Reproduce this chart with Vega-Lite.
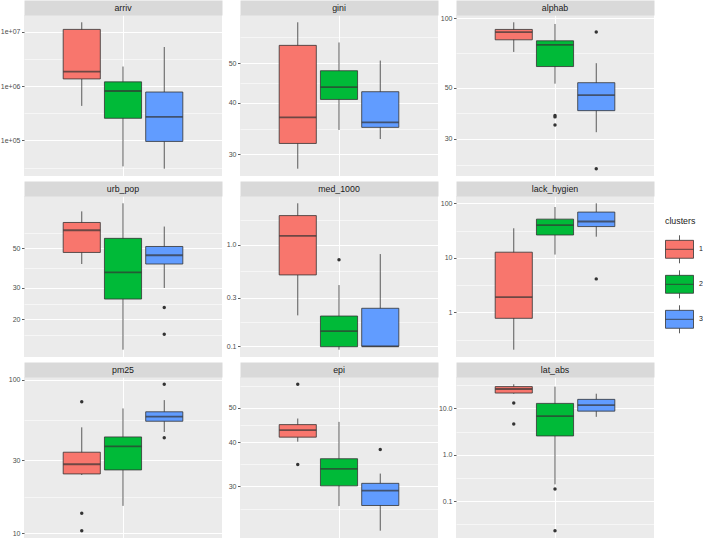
{
  "$schema": "https://vega.github.io/schema/vega-lite/v6.json",
  "padding": {"left": 0, "top": -99, "right": 0, "bottom": 0},
  "background": "white",
  "bounds": "flush",
  "columns": 3,
  "spacing": {"row": 20, "column": 18},
  "config": {
    "font": "Liberation Sans",
    "view": {"fill": "#EBEBEB", "stroke": null},
    "axisY": {"labelFont": "Liberation Sans", "labelFontSize": 7, "labelColor": "#4D4D4D", "tickColor": "#333333", "tickSize": 2.5, "tickWidth": 0.8, "domain": false, "gridColor": "#FFFFFF", "labelPadding": 1.5, "title": null},
    "axisX": {"labelFont": "Liberation Sans", "title": null, "domain": false, "ticks": true, "tickColor": "#D9D9D9", "tickWidth": 198, "tickSize": 15, "tickCap": "butt", "labelPadding": -7.5, "labelBaseline": "middle", "labelAngle": 0, "labelFontSize": 8.8, "labelColor": "#1A1A1A", "grid": true, "gridColor": "#FFFFFF", "gridWidth": 1.1, "bandPosition": 0.5}
  },
  "datasets": {
    "boxes": [
      {"variable": "arriv", "cluster": "1", "lower": 433000, "q1": 1360000, "median": 1860000, "q3": 11100000, "upper": 15000000},
      {"variable": "arriv", "cluster": "2", "lower": 33300, "q1": 256000, "median": 815000, "q3": 1200000, "upper": 2300000},
      {"variable": "arriv", "cluster": "3", "lower": 30200, "q1": 96000, "median": 271000, "q3": 780000, "upper": 5260000},
      {"variable": "gini", "cluster": "1", "lower": 27.7, "q1": 31.9, "median": 36.9, "q3": 55.2, "upper": 62.8},
      {"variable": "gini", "cluster": "2", "lower": 34.4, "q1": 40.8, "median": 43.7, "q3": 47.9, "upper": 56.1},
      {"variable": "gini", "cluster": "3", "lower": 32.7, "q1": 34.9, "median": 35.9, "q3": 42.6, "upper": 50.7},
      {"variable": "alphab", "cluster": "1", "lower": 71.5, "q1": 80.7, "median": 87.2, "q3": 89.5, "upper": 96.1},
      {"variable": "alphab", "cluster": "2", "lower": 52.1, "q1": 61.8, "median": 76.7, "q3": 79.9, "upper": 94.5},
      {"variable": "alphab", "cluster": "3", "lower": 32.1, "q1": 39.8, "median": 46.5, "q3": 52.6, "upper": 63.9},
      {"variable": "urb_pop", "cluster": "1", "lower": 40.9, "q1": 47.5, "median": 63.3, "q3": 70.0, "upper": 80.8},
      {"variable": "urb_pop", "cluster": "2", "lower": 13.5, "q1": 26.0, "median": 36.7, "q3": 57.0, "upper": 89.7},
      {"variable": "urb_pop", "cluster": "3", "lower": 30.0, "q1": 40.9, "median": 45.8, "q3": 51.3, "upper": 66.4},
      {"variable": "med_1000", "cluster": "1", "lower": 0.2017, "q1": 0.504, "median": 1.22, "q3": 1.93, "upper": 2.55},
      {"variable": "med_1000", "cluster": "2", "lower": 0.0927, "q1": 0.0992, "median": 0.141, "q3": 0.1986, "upper": 0.4005},
      {"variable": "med_1000", "cluster": "3", "lower": 0.1, "q1": 0.1, "median": 0.1, "q3": 0.2367, "upper": 0.808},
      {"variable": "lack_hygien", "cluster": "1", "lower": 0.2055, "q1": 0.774, "median": 1.9, "q3": 12.66, "upper": 34.8},
      {"variable": "lack_hygien", "cluster": "2", "lower": 11.45, "q1": 26.2, "median": 39.6, "q3": 51.2, "upper": 85.5},
      {"variable": "lack_hygien", "cluster": "3", "lower": 24.4, "q1": 37.4, "median": 46.3, "q3": 69.0, "upper": 100},
      {"variable": "pm25", "cluster": "1", "lower": 24.0, "q1": 24.4, "median": 28.2, "q3": 33.8, "upper": 49.1},
      {"variable": "pm25", "cluster": "2", "lower": 15.1, "q1": 25.9, "median": 36.9, "q3": 42.5, "upper": 65.2},
      {"variable": "pm25", "cluster": "3", "lower": 45.8, "q1": 53.8, "median": 57.7, "q3": 62.0, "upper": 73.9},
      {"variable": "epi", "cluster": "1", "lower": 40.1, "q1": 41.3, "median": 43.2, "q3": 44.8, "upper": 46.6},
      {"variable": "epi", "cluster": "2", "lower": 26.4, "q1": 30.1, "median": 33.6, "q3": 35.9, "upper": 45.6},
      {"variable": "epi", "cluster": "3", "lower": 22.5, "q1": 26.5, "median": 29.2, "q3": 30.6, "upper": 32.6},
      {"variable": "lat_abs", "cluster": "1", "lower": 20.8, "q1": 21.5, "median": 26.3, "q3": 29.6, "upper": 33.2},
      {"variable": "lat_abs", "cluster": "2", "lower": 0.23, "q1": 2.55, "median": 6.81, "q3": 12.85, "upper": 29.6},
      {"variable": "lat_abs", "cluster": "3", "lower": 6.59, "q1": 8.75, "median": 11.8, "q3": 15.7, "upper": 20.8}
    ],
    "outliers": [
      {"variable": "alphab", "cluster": "2", "value": 37.9},
      {"variable": "alphab", "cluster": "2", "value": 37.4},
      {"variable": "alphab", "cluster": "2", "value": 34.5},
      {"variable": "alphab", "cluster": "3", "value": 87.2},
      {"variable": "alphab", "cluster": "3", "value": 22.3},
      {"variable": "urb_pop", "cluster": "3", "value": 23.3},
      {"variable": "urb_pop", "cluster": "3", "value": 16.5},
      {"variable": "med_1000", "cluster": "2", "value": 0.71},
      {"variable": "lack_hygien", "cluster": "3", "value": 4.1},
      {"variable": "pm25", "cluster": "1", "value": 72.1},
      {"variable": "pm25", "cluster": "1", "value": 13.5},
      {"variable": "pm25", "cluster": "1", "value": 10.4},
      {"variable": "pm25", "cluster": "3", "value": 93.7},
      {"variable": "pm25", "cluster": "3", "value": 42.0},
      {"variable": "epi", "cluster": "1", "value": 58.2},
      {"variable": "epi", "cluster": "1", "value": 34.6},
      {"variable": "epi", "cluster": "3", "value": 38.1},
      {"variable": "lat_abs", "cluster": "1", "value": 13.1},
      {"variable": "lat_abs", "cluster": "1", "value": 4.64},
      {"variable": "lat_abs", "cluster": "2", "value": 0.182},
      {"variable": "lat_abs", "cluster": "2", "value": 0.023}
    ]
  },
  "concat": [
    {
      "width": 198, "height": 161,
      "resolve": {"axis": {"y": "independent"}},
      "layer": [
        {"data": {"name": "boxes"}, "transform": [{"filter": "datum.variable === 'arriv'"}],
         "mark": {"type": "rule", "color": "#333333", "strokeWidth": 0.8},
         "encoding": {
           "x": {"field": "variable", "type": "nominal", "scale": {"paddingInner": 0, "paddingOuter": 0.1}, "axis": {"orient": "top"}},
           "xOffset": {"field": "cluster", "type": "nominal", "scale": {"paddingInner": 0.1, "paddingOuter": 0.55}},
           "y": {"field": "lower", "type": "quantitative", "scale": {"type": "log", "nice": false, "padding": 7.3}, "axis": {"orient": "left", "values": [100000, 1000000, 10000000], "labelExpr": "replace(format(datum.value, '.0e'), 'e+', 'e+0')", "grid": true, "gridWidth": 1.1}},
           "y2": {"field": "upper"}
         }},
        {"data": {"name": "boxes"}, "transform": [{"filter": "datum.variable === 'arriv'"}],
         "mark": {"type": "bar", "stroke": "#333333", "strokeWidth": 0.8},
         "encoding": {
           "x": {"field": "variable", "type": "nominal", "axis": {"orient": "top"}},
           "xOffset": {"field": "cluster", "type": "nominal"},
           "y": {"field": "q1", "type": "quantitative", "scale": {"type": "log"}, "axis": {"orient": "left", "values": [31623, 316228, 3162278], "labels": false, "ticks": false, "grid": true, "gridWidth": 0.55}},
           "y2": {"field": "q3"},
           "fill": {"field": "cluster", "type": "nominal", "scale": {"domain": ["1", "2", "3"], "range": ["#F8766D", "#00BA38", "#619CFF"]}, "legend": {"title": "clusters", "orient": "none", "legendX": 641, "legendY": 202, "symbolType": "M-1,-0.64H1V0.64H-1Z M-1,0H1 M0,-0.64V-1 M0,0.64V1", "symbolSize": 784, "symbolStrokeColor": "#333333", "symbolStrokeWidth": 0.8, "symbolOpacity": 1, "labelFontSize": 7, "labelColor": "#1A1A1A", "labelOffset": 5, "titleFontSize": 8.8, "titleFontWeight": "normal", "titleColor": "#1A1A1A", "titlePadding": 9, "rowPadding": 2}}
         }},
        {"data": {"name": "boxes"}, "transform": [{"filter": "datum.variable === 'arriv'"}],
         "mark": {"type": "tick", "color": "#333333", "thickness": 1.8, "size": 37},
         "encoding": {
           "x": {"field": "variable", "type": "nominal", "axis": {"orient": "top"}},
           "xOffset": {"field": "cluster", "type": "nominal"},
           "y": {"field": "median", "type": "quantitative", "scale": {"type": "log"}, "axis": null}
         }},
        {"data": {"name": "outliers"}, "transform": [{"filter": "datum.variable === 'arriv'"}],
         "mark": {"type": "point", "filled": true, "color": "#333333", "size": 12, "opacity": 1},
         "encoding": {
           "x": {"field": "variable", "type": "nominal", "axis": {"orient": "top"}},
           "xOffset": {"field": "cluster", "type": "nominal"},
           "y": {"field": "value", "type": "quantitative", "scale": {"type": "log"}, "axis": null}
         }}
      ]
    },
    {
      "width": 198, "height": 161,
      "resolve": {"axis": {"y": "independent"}},
      "layer": [
        {"data": {"name": "boxes"}, "transform": [{"filter": "datum.variable === 'gini'"}],
         "mark": {"type": "rule", "color": "#333333", "strokeWidth": 0.8},
         "encoding": {
           "x": {"field": "variable", "type": "nominal", "scale": {"paddingInner": 0, "paddingOuter": 0.1}, "axis": {"orient": "top"}},
           "xOffset": {"field": "cluster", "type": "nominal", "scale": {"paddingInner": 0.1, "paddingOuter": 0.55}},
           "y": {"field": "lower", "type": "quantitative", "scale": {"type": "log", "nice": false, "padding": 7.3}, "axis": {"orient": "left", "values": [30, 40, 50], "format": ".0f", "grid": true, "gridWidth": 1.1}},
           "y2": {"field": "upper"}
         }},
        {"data": {"name": "boxes"}, "transform": [{"filter": "datum.variable === 'gini'"}],
         "mark": {"type": "bar", "stroke": "#333333", "strokeWidth": 0.8},
         "encoding": {
           "x": {"field": "variable", "type": "nominal", "axis": {"orient": "top"}},
           "xOffset": {"field": "cluster", "type": "nominal"},
           "y": {"field": "q1", "type": "quantitative", "scale": {"type": "log"}, "axis": {"orient": "left", "values": [34.64, 44.72, 57.74], "labels": false, "ticks": false, "grid": true, "gridWidth": 0.55}},
           "y2": {"field": "q3"},
           "fill": {"field": "cluster", "type": "nominal", "scale": {"domain": ["1", "2", "3"], "range": ["#F8766D", "#00BA38", "#619CFF"]}, "legend": {"title": "clusters", "orient": "none", "legendX": 641, "legendY": 202, "symbolType": "M-1,-0.64H1V0.64H-1Z M-1,0H1 M0,-0.64V-1 M0,0.64V1", "symbolSize": 784, "symbolStrokeColor": "#333333", "symbolStrokeWidth": 0.8, "symbolOpacity": 1, "labelFontSize": 7, "labelColor": "#1A1A1A", "labelOffset": 5, "titleFontSize": 8.8, "titleFontWeight": "normal", "titleColor": "#1A1A1A", "titlePadding": 9, "rowPadding": 2}}
         }},
        {"data": {"name": "boxes"}, "transform": [{"filter": "datum.variable === 'gini'"}],
         "mark": {"type": "tick", "color": "#333333", "thickness": 1.8, "size": 37},
         "encoding": {
           "x": {"field": "variable", "type": "nominal", "axis": {"orient": "top"}},
           "xOffset": {"field": "cluster", "type": "nominal"},
           "y": {"field": "median", "type": "quantitative", "scale": {"type": "log"}, "axis": null}
         }},
        {"data": {"name": "outliers"}, "transform": [{"filter": "datum.variable === 'gini'"}],
         "mark": {"type": "point", "filled": true, "color": "#333333", "size": 12, "opacity": 1},
         "encoding": {
           "x": {"field": "variable", "type": "nominal", "axis": {"orient": "top"}},
           "xOffset": {"field": "cluster", "type": "nominal"},
           "y": {"field": "value", "type": "quantitative", "scale": {"type": "log"}, "axis": null}
         }}
      ]
    },
    {
      "width": 198, "height": 161,
      "resolve": {"axis": {"y": "independent"}},
      "layer": [
        {"data": {"name": "boxes"}, "transform": [{"filter": "datum.variable === 'alphab'"}],
         "mark": {"type": "rule", "color": "#333333", "strokeWidth": 0.8},
         "encoding": {
           "x": {"field": "variable", "type": "nominal", "scale": {"paddingInner": 0, "paddingOuter": 0.1}, "axis": {"orient": "top"}},
           "xOffset": {"field": "cluster", "type": "nominal", "scale": {"paddingInner": 0.1, "paddingOuter": 0.55}},
           "y": {"field": "lower", "type": "quantitative", "scale": {"type": "log", "nice": false, "padding": 7.3}, "axis": {"orient": "left", "values": [30, 50, 100], "format": ".0f", "grid": true, "gridWidth": 1.1}},
           "y2": {"field": "upper"}
         }},
        {"data": {"name": "boxes"}, "transform": [{"filter": "datum.variable === 'alphab'"}],
         "mark": {"type": "bar", "stroke": "#333333", "strokeWidth": 0.8},
         "encoding": {
           "x": {"field": "variable", "type": "nominal", "axis": {"orient": "top"}},
           "xOffset": {"field": "cluster", "type": "nominal"},
           "y": {"field": "q1", "type": "quantitative", "scale": {"type": "log"}, "axis": {"orient": "left", "values": [23.24, 38.73, 70.71], "labels": false, "ticks": false, "grid": true, "gridWidth": 0.55}},
           "y2": {"field": "q3"},
           "fill": {"field": "cluster", "type": "nominal", "scale": {"domain": ["1", "2", "3"], "range": ["#F8766D", "#00BA38", "#619CFF"]}, "legend": {"title": "clusters", "orient": "none", "legendX": 641, "legendY": 202, "symbolType": "M-1,-0.64H1V0.64H-1Z M-1,0H1 M0,-0.64V-1 M0,0.64V1", "symbolSize": 784, "symbolStrokeColor": "#333333", "symbolStrokeWidth": 0.8, "symbolOpacity": 1, "labelFontSize": 7, "labelColor": "#1A1A1A", "labelOffset": 5, "titleFontSize": 8.8, "titleFontWeight": "normal", "titleColor": "#1A1A1A", "titlePadding": 9, "rowPadding": 2}}
         }},
        {"data": {"name": "boxes"}, "transform": [{"filter": "datum.variable === 'alphab'"}],
         "mark": {"type": "tick", "color": "#333333", "thickness": 1.8, "size": 37},
         "encoding": {
           "x": {"field": "variable", "type": "nominal", "axis": {"orient": "top"}},
           "xOffset": {"field": "cluster", "type": "nominal"},
           "y": {"field": "median", "type": "quantitative", "scale": {"type": "log"}, "axis": null}
         }},
        {"data": {"name": "outliers"}, "transform": [{"filter": "datum.variable === 'alphab'"}],
         "mark": {"type": "point", "filled": true, "color": "#333333", "size": 12, "opacity": 1},
         "encoding": {
           "x": {"field": "variable", "type": "nominal", "axis": {"orient": "top"}},
           "xOffset": {"field": "cluster", "type": "nominal"},
           "y": {"field": "value", "type": "quantitative", "scale": {"type": "log"}, "axis": null}
         }}
      ]
    },
    {
      "width": 198, "height": 161,
      "resolve": {"axis": {"y": "independent"}},
      "layer": [
        {"data": {"name": "boxes"}, "transform": [{"filter": "datum.variable === 'urb_pop'"}],
         "mark": {"type": "rule", "color": "#333333", "strokeWidth": 0.8},
         "encoding": {
           "x": {"field": "variable", "type": "nominal", "scale": {"paddingInner": 0, "paddingOuter": 0.1}, "axis": {"orient": "top"}},
           "xOffset": {"field": "cluster", "type": "nominal", "scale": {"paddingInner": 0.1, "paddingOuter": 0.55}},
           "y": {"field": "lower", "type": "quantitative", "scale": {"type": "log", "nice": false, "padding": 7.3}, "axis": {"orient": "left", "values": [20, 30, 50], "format": ".0f", "grid": true, "gridWidth": 1.1}},
           "y2": {"field": "upper"}
         }},
        {"data": {"name": "boxes"}, "transform": [{"filter": "datum.variable === 'urb_pop'"}],
         "mark": {"type": "bar", "stroke": "#333333", "strokeWidth": 0.8},
         "encoding": {
           "x": {"field": "variable", "type": "nominal", "axis": {"orient": "top"}},
           "xOffset": {"field": "cluster", "type": "nominal"},
           "y": {"field": "q1", "type": "quantitative", "scale": {"type": "log"}, "axis": {"orient": "left", "values": [16.33, 24.49, 38.73, 61.24], "labels": false, "ticks": false, "grid": true, "gridWidth": 0.55}},
           "y2": {"field": "q3"},
           "fill": {"field": "cluster", "type": "nominal", "scale": {"domain": ["1", "2", "3"], "range": ["#F8766D", "#00BA38", "#619CFF"]}, "legend": {"title": "clusters", "orient": "none", "legendX": 641, "legendY": 202, "symbolType": "M-1,-0.64H1V0.64H-1Z M-1,0H1 M0,-0.64V-1 M0,0.64V1", "symbolSize": 784, "symbolStrokeColor": "#333333", "symbolStrokeWidth": 0.8, "symbolOpacity": 1, "labelFontSize": 7, "labelColor": "#1A1A1A", "labelOffset": 5, "titleFontSize": 8.8, "titleFontWeight": "normal", "titleColor": "#1A1A1A", "titlePadding": 9, "rowPadding": 2}}
         }},
        {"data": {"name": "boxes"}, "transform": [{"filter": "datum.variable === 'urb_pop'"}],
         "mark": {"type": "tick", "color": "#333333", "thickness": 1.8, "size": 37},
         "encoding": {
           "x": {"field": "variable", "type": "nominal", "axis": {"orient": "top"}},
           "xOffset": {"field": "cluster", "type": "nominal"},
           "y": {"field": "median", "type": "quantitative", "scale": {"type": "log"}, "axis": null}
         }},
        {"data": {"name": "outliers"}, "transform": [{"filter": "datum.variable === 'urb_pop'"}],
         "mark": {"type": "point", "filled": true, "color": "#333333", "size": 12, "opacity": 1},
         "encoding": {
           "x": {"field": "variable", "type": "nominal", "axis": {"orient": "top"}},
           "xOffset": {"field": "cluster", "type": "nominal"},
           "y": {"field": "value", "type": "quantitative", "scale": {"type": "log"}, "axis": null}
         }}
      ]
    },
    {
      "width": 198, "height": 161,
      "resolve": {"axis": {"y": "independent"}},
      "layer": [
        {"data": {"name": "boxes"}, "transform": [{"filter": "datum.variable === 'med_1000'"}],
         "mark": {"type": "rule", "color": "#333333", "strokeWidth": 0.8},
         "encoding": {
           "x": {"field": "variable", "type": "nominal", "scale": {"paddingInner": 0, "paddingOuter": 0.1}, "axis": {"orient": "top"}},
           "xOffset": {"field": "cluster", "type": "nominal", "scale": {"paddingInner": 0.1, "paddingOuter": 0.55}},
           "y": {"field": "lower", "type": "quantitative", "scale": {"type": "log", "nice": false, "padding": 7.3}, "axis": {"orient": "left", "values": [0.1, 0.3, 1], "format": ".1f", "grid": true, "gridWidth": 1.1}},
           "y2": {"field": "upper"}
         }},
        {"data": {"name": "boxes"}, "transform": [{"filter": "datum.variable === 'med_1000'"}],
         "mark": {"type": "bar", "stroke": "#333333", "strokeWidth": 0.8},
         "encoding": {
           "x": {"field": "variable", "type": "nominal", "axis": {"orient": "top"}},
           "xOffset": {"field": "cluster", "type": "nominal"},
           "y": {"field": "q1", "type": "quantitative", "scale": {"type": "log"}, "axis": {"orient": "left", "values": [0.1732, 0.5477, 1.732], "labels": false, "ticks": false, "grid": true, "gridWidth": 0.55}},
           "y2": {"field": "q3"},
           "fill": {"field": "cluster", "type": "nominal", "scale": {"domain": ["1", "2", "3"], "range": ["#F8766D", "#00BA38", "#619CFF"]}, "legend": {"title": "clusters", "orient": "none", "legendX": 641, "legendY": 202, "symbolType": "M-1,-0.64H1V0.64H-1Z M-1,0H1 M0,-0.64V-1 M0,0.64V1", "symbolSize": 784, "symbolStrokeColor": "#333333", "symbolStrokeWidth": 0.8, "symbolOpacity": 1, "labelFontSize": 7, "labelColor": "#1A1A1A", "labelOffset": 5, "titleFontSize": 8.8, "titleFontWeight": "normal", "titleColor": "#1A1A1A", "titlePadding": 9, "rowPadding": 2}}
         }},
        {"data": {"name": "boxes"}, "transform": [{"filter": "datum.variable === 'med_1000'"}],
         "mark": {"type": "tick", "color": "#333333", "thickness": 1.8, "size": 37},
         "encoding": {
           "x": {"field": "variable", "type": "nominal", "axis": {"orient": "top"}},
           "xOffset": {"field": "cluster", "type": "nominal"},
           "y": {"field": "median", "type": "quantitative", "scale": {"type": "log"}, "axis": null}
         }},
        {"data": {"name": "outliers"}, "transform": [{"filter": "datum.variable === 'med_1000'"}],
         "mark": {"type": "point", "filled": true, "color": "#333333", "size": 12, "opacity": 1},
         "encoding": {
           "x": {"field": "variable", "type": "nominal", "axis": {"orient": "top"}},
           "xOffset": {"field": "cluster", "type": "nominal"},
           "y": {"field": "value", "type": "quantitative", "scale": {"type": "log"}, "axis": null}
         }}
      ]
    },
    {
      "width": 198, "height": 161,
      "resolve": {"axis": {"y": "independent"}},
      "layer": [
        {"data": {"name": "boxes"}, "transform": [{"filter": "datum.variable === 'lack_hygien'"}],
         "mark": {"type": "rule", "color": "#333333", "strokeWidth": 0.8},
         "encoding": {
           "x": {"field": "variable", "type": "nominal", "scale": {"paddingInner": 0, "paddingOuter": 0.1}, "axis": {"orient": "top"}},
           "xOffset": {"field": "cluster", "type": "nominal", "scale": {"paddingInner": 0.1, "paddingOuter": 0.55}},
           "y": {"field": "lower", "type": "quantitative", "scale": {"type": "log", "nice": false, "padding": 7.3}, "axis": {"orient": "left", "values": [1, 10, 100], "format": ".0f", "grid": true, "gridWidth": 1.1}},
           "y2": {"field": "upper"}
         }},
        {"data": {"name": "boxes"}, "transform": [{"filter": "datum.variable === 'lack_hygien'"}],
         "mark": {"type": "bar", "stroke": "#333333", "strokeWidth": 0.8},
         "encoding": {
           "x": {"field": "variable", "type": "nominal", "axis": {"orient": "top"}},
           "xOffset": {"field": "cluster", "type": "nominal"},
           "y": {"field": "q1", "type": "quantitative", "scale": {"type": "log"}, "axis": {"orient": "left", "values": [0.3162, 3.162, 31.62], "labels": false, "ticks": false, "grid": true, "gridWidth": 0.55}},
           "y2": {"field": "q3"},
           "fill": {"field": "cluster", "type": "nominal", "scale": {"domain": ["1", "2", "3"], "range": ["#F8766D", "#00BA38", "#619CFF"]}, "legend": {"title": "clusters", "orient": "none", "legendX": 641, "legendY": 202, "symbolType": "M-1,-0.64H1V0.64H-1Z M-1,0H1 M0,-0.64V-1 M0,0.64V1", "symbolSize": 784, "symbolStrokeColor": "#333333", "symbolStrokeWidth": 0.8, "symbolOpacity": 1, "labelFontSize": 7, "labelColor": "#1A1A1A", "labelOffset": 5, "titleFontSize": 8.8, "titleFontWeight": "normal", "titleColor": "#1A1A1A", "titlePadding": 9, "rowPadding": 2}}
         }},
        {"data": {"name": "boxes"}, "transform": [{"filter": "datum.variable === 'lack_hygien'"}],
         "mark": {"type": "tick", "color": "#333333", "thickness": 1.8, "size": 37},
         "encoding": {
           "x": {"field": "variable", "type": "nominal", "axis": {"orient": "top"}},
           "xOffset": {"field": "cluster", "type": "nominal"},
           "y": {"field": "median", "type": "quantitative", "scale": {"type": "log"}, "axis": null}
         }},
        {"data": {"name": "outliers"}, "transform": [{"filter": "datum.variable === 'lack_hygien'"}],
         "mark": {"type": "point", "filled": true, "color": "#333333", "size": 12, "opacity": 1},
         "encoding": {
           "x": {"field": "variable", "type": "nominal", "axis": {"orient": "top"}},
           "xOffset": {"field": "cluster", "type": "nominal"},
           "y": {"field": "value", "type": "quantitative", "scale": {"type": "log"}, "axis": null}
         }}
      ]
    },
    {
      "width": 198, "height": 161,
      "resolve": {"axis": {"y": "independent"}},
      "layer": [
        {"data": {"name": "boxes"}, "transform": [{"filter": "datum.variable === 'pm25'"}],
         "mark": {"type": "rule", "color": "#333333", "strokeWidth": 0.8},
         "encoding": {
           "x": {"field": "variable", "type": "nominal", "scale": {"paddingInner": 0, "paddingOuter": 0.1}, "axis": {"orient": "top"}},
           "xOffset": {"field": "cluster", "type": "nominal", "scale": {"paddingInner": 0.1, "paddingOuter": 0.55}},
           "y": {"field": "lower", "type": "quantitative", "scale": {"type": "log", "nice": false, "padding": 7.3}, "axis": {"orient": "left", "values": [10, 30, 100], "format": ".0f", "grid": true, "gridWidth": 1.1}},
           "y2": {"field": "upper"}
         }},
        {"data": {"name": "boxes"}, "transform": [{"filter": "datum.variable === 'pm25'"}],
         "mark": {"type": "bar", "stroke": "#333333", "strokeWidth": 0.8},
         "encoding": {
           "x": {"field": "variable", "type": "nominal", "axis": {"orient": "top"}},
           "xOffset": {"field": "cluster", "type": "nominal"},
           "y": {"field": "q1", "type": "quantitative", "scale": {"type": "log"}, "axis": {"orient": "left", "values": [17.32, 54.77], "labels": false, "ticks": false, "grid": true, "gridWidth": 0.55}},
           "y2": {"field": "q3"},
           "fill": {"field": "cluster", "type": "nominal", "scale": {"domain": ["1", "2", "3"], "range": ["#F8766D", "#00BA38", "#619CFF"]}, "legend": {"title": "clusters", "orient": "none", "legendX": 641, "legendY": 202, "symbolType": "M-1,-0.64H1V0.64H-1Z M-1,0H1 M0,-0.64V-1 M0,0.64V1", "symbolSize": 784, "symbolStrokeColor": "#333333", "symbolStrokeWidth": 0.8, "symbolOpacity": 1, "labelFontSize": 7, "labelColor": "#1A1A1A", "labelOffset": 5, "titleFontSize": 8.8, "titleFontWeight": "normal", "titleColor": "#1A1A1A", "titlePadding": 9, "rowPadding": 2}}
         }},
        {"data": {"name": "boxes"}, "transform": [{"filter": "datum.variable === 'pm25'"}],
         "mark": {"type": "tick", "color": "#333333", "thickness": 1.8, "size": 37},
         "encoding": {
           "x": {"field": "variable", "type": "nominal", "axis": {"orient": "top"}},
           "xOffset": {"field": "cluster", "type": "nominal"},
           "y": {"field": "median", "type": "quantitative", "scale": {"type": "log"}, "axis": null}
         }},
        {"data": {"name": "outliers"}, "transform": [{"filter": "datum.variable === 'pm25'"}],
         "mark": {"type": "point", "filled": true, "color": "#333333", "size": 12, "opacity": 1},
         "encoding": {
           "x": {"field": "variable", "type": "nominal", "axis": {"orient": "top"}},
           "xOffset": {"field": "cluster", "type": "nominal"},
           "y": {"field": "value", "type": "quantitative", "scale": {"type": "log"}, "axis": null}
         }}
      ]
    },
    {
      "width": 198, "height": 161,
      "resolve": {"axis": {"y": "independent"}},
      "layer": [
        {"data": {"name": "boxes"}, "transform": [{"filter": "datum.variable === 'epi'"}],
         "mark": {"type": "rule", "color": "#333333", "strokeWidth": 0.8},
         "encoding": {
           "x": {"field": "variable", "type": "nominal", "scale": {"paddingInner": 0, "paddingOuter": 0.1}, "axis": {"orient": "top"}},
           "xOffset": {"field": "cluster", "type": "nominal", "scale": {"paddingInner": 0.1, "paddingOuter": 0.55}},
           "y": {"field": "lower", "type": "quantitative", "scale": {"type": "log", "nice": false, "padding": 7.3}, "axis": {"orient": "left", "values": [30, 40, 50], "format": ".0f", "grid": true, "gridWidth": 1.1}},
           "y2": {"field": "upper"}
         }},
        {"data": {"name": "boxes"}, "transform": [{"filter": "datum.variable === 'epi'"}],
         "mark": {"type": "bar", "stroke": "#333333", "strokeWidth": 0.8},
         "encoding": {
           "x": {"field": "variable", "type": "nominal", "axis": {"orient": "top"}},
           "xOffset": {"field": "cluster", "type": "nominal"},
           "y": {"field": "q1", "type": "quantitative", "scale": {"type": "log"}, "axis": {"orient": "left", "values": [25.98, 34.64, 44.72, 57.74], "labels": false, "ticks": false, "grid": true, "gridWidth": 0.55}},
           "y2": {"field": "q3"},
           "fill": {"field": "cluster", "type": "nominal", "scale": {"domain": ["1", "2", "3"], "range": ["#F8766D", "#00BA38", "#619CFF"]}, "legend": {"title": "clusters", "orient": "none", "legendX": 641, "legendY": 202, "symbolType": "M-1,-0.64H1V0.64H-1Z M-1,0H1 M0,-0.64V-1 M0,0.64V1", "symbolSize": 784, "symbolStrokeColor": "#333333", "symbolStrokeWidth": 0.8, "symbolOpacity": 1, "labelFontSize": 7, "labelColor": "#1A1A1A", "labelOffset": 5, "titleFontSize": 8.8, "titleFontWeight": "normal", "titleColor": "#1A1A1A", "titlePadding": 9, "rowPadding": 2}}
         }},
        {"data": {"name": "boxes"}, "transform": [{"filter": "datum.variable === 'epi'"}],
         "mark": {"type": "tick", "color": "#333333", "thickness": 1.8, "size": 37},
         "encoding": {
           "x": {"field": "variable", "type": "nominal", "axis": {"orient": "top"}},
           "xOffset": {"field": "cluster", "type": "nominal"},
           "y": {"field": "median", "type": "quantitative", "scale": {"type": "log"}, "axis": null}
         }},
        {"data": {"name": "outliers"}, "transform": [{"filter": "datum.variable === 'epi'"}],
         "mark": {"type": "point", "filled": true, "color": "#333333", "size": 12, "opacity": 1},
         "encoding": {
           "x": {"field": "variable", "type": "nominal", "axis": {"orient": "top"}},
           "xOffset": {"field": "cluster", "type": "nominal"},
           "y": {"field": "value", "type": "quantitative", "scale": {"type": "log"}, "axis": null}
         }}
      ]
    },
    {
      "width": 198, "height": 161,
      "resolve": {"axis": {"y": "independent"}},
      "layer": [
        {"data": {"name": "boxes"}, "transform": [{"filter": "datum.variable === 'lat_abs'"}],
         "mark": {"type": "rule", "color": "#333333", "strokeWidth": 0.8},
         "encoding": {
           "x": {"field": "variable", "type": "nominal", "scale": {"paddingInner": 0, "paddingOuter": 0.1}, "axis": {"orient": "top"}},
           "xOffset": {"field": "cluster", "type": "nominal", "scale": {"paddingInner": 0.1, "paddingOuter": 0.55}},
           "y": {"field": "lower", "type": "quantitative", "scale": {"type": "log", "nice": false, "padding": 7.3}, "axis": {"orient": "left", "values": [0.1, 1, 10], "format": ".1f", "grid": true, "gridWidth": 1.1}},
           "y2": {"field": "upper"}
         }},
        {"data": {"name": "boxes"}, "transform": [{"filter": "datum.variable === 'lat_abs'"}],
         "mark": {"type": "bar", "stroke": "#333333", "strokeWidth": 0.8},
         "encoding": {
           "x": {"field": "variable", "type": "nominal", "axis": {"orient": "top"}},
           "xOffset": {"field": "cluster", "type": "nominal"},
           "y": {"field": "q1", "type": "quantitative", "scale": {"type": "log"}, "axis": {"orient": "left", "values": [0.03162, 0.3162, 3.162, 31.62], "labels": false, "ticks": false, "grid": true, "gridWidth": 0.55}},
           "y2": {"field": "q3"},
           "fill": {"field": "cluster", "type": "nominal", "scale": {"domain": ["1", "2", "3"], "range": ["#F8766D", "#00BA38", "#619CFF"]}, "legend": {"title": "clusters", "orient": "none", "legendX": 641, "legendY": 202, "symbolType": "M-1,-0.64H1V0.64H-1Z M-1,0H1 M0,-0.64V-1 M0,0.64V1", "symbolSize": 784, "symbolStrokeColor": "#333333", "symbolStrokeWidth": 0.8, "symbolOpacity": 1, "labelFontSize": 7, "labelColor": "#1A1A1A", "labelOffset": 5, "titleFontSize": 8.8, "titleFontWeight": "normal", "titleColor": "#1A1A1A", "titlePadding": 9, "rowPadding": 2}}
         }},
        {"data": {"name": "boxes"}, "transform": [{"filter": "datum.variable === 'lat_abs'"}],
         "mark": {"type": "tick", "color": "#333333", "thickness": 1.8, "size": 37},
         "encoding": {
           "x": {"field": "variable", "type": "nominal", "axis": {"orient": "top"}},
           "xOffset": {"field": "cluster", "type": "nominal"},
           "y": {"field": "median", "type": "quantitative", "scale": {"type": "log"}, "axis": null}
         }},
        {"data": {"name": "outliers"}, "transform": [{"filter": "datum.variable === 'lat_abs'"}],
         "mark": {"type": "point", "filled": true, "color": "#333333", "size": 12, "opacity": 1},
         "encoding": {
           "x": {"field": "variable", "type": "nominal", "axis": {"orient": "top"}},
           "xOffset": {"field": "cluster", "type": "nominal"},
           "y": {"field": "value", "type": "quantitative", "scale": {"type": "log"}, "axis": null}
         }}
      ]
    }
  ]
}
